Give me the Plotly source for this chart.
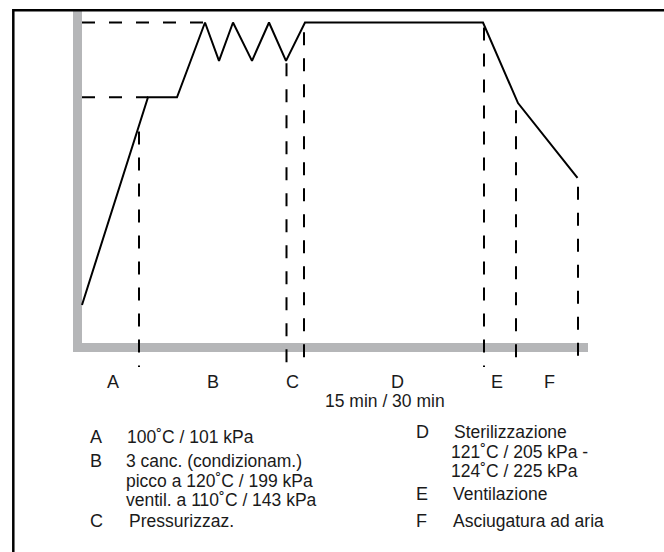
import plotly.graph_objects as go

# ---- data (abstract time units 0..100, level units 0..100) ----
cycle_time = [0.9, 14.1, 19.9, 25.5, 28.3, 31.1, 34.9, 38.3, 41.7, 45.5, 81.1, 88.1, 100.0]
cycle_level = [13.1, 77.0, 77.0, 100.0, 88.2, 100.0, 88.2, 100.0, 88.2, 100.0, 100.0, 75.2, 52.2]

# phase boundaries (vertical dashed lines): x, top level
bound_x = [12.3, 41.8, 45.3, 81.3, 87.7, 100.1]
bound_top = [66.5, 87.5, 97.0, 98.5, 73.0, 49.5]
bound_bottom = -6.0

# reference levels (horizontal dashed lines): level, end x
ref_level = [100.0, 77.0]
ref_end = [25.5, 14.1]
ref_start = 0.9

phase_labels = ["A", "B", "C", "D", "E", "F"]
phase_label_x = [7.1, 27.1, 42.9, 63.9, 83.9, 94.3]
duration_text = "15 min / 30 min"

legend_left = [
    ("A", ["100˚C / 101 kPa"]),
    ("B", ["3 canc. (condizionam.)", "picco a 120˚C / 199 kPa", "ventil. a 110˚C / 143 kPa"]),
    ("C", ["Pressurizzaz."]),
]
legend_right = [
    ("D", ["Sterilizzazione", "121˚C / 205 kPa -", "124˚C / 225 kPa"]),
    ("E", ["Ventilazione"]),
    ("F", ["Asciugatura ad aria"]),
]

# ---- layout helpers ----
W, H = 664, 552
X0PX, XSCALE = 77.5, 5.0      # pixel of x=0, px per unit
Y0PX, YSCALE = 347.5, 3.25    # pixel of y=0, px per unit

def px(x):
    return x / W

def py(y):
    return 1 - y / H

FONT = "Liberation Sans, Arial, Helvetica, sans-serif"
FS = 17.5
LINE_GAP = 19.5
TXT = "#1a1a1a"
GRAY = "#b5b6b8"

fig = go.Figure()

# gray axes
fig.add_shape(type="line", x0=0, x1=0, y0=(Y0PX - 11) / YSCALE, y1=-(352 - Y0PX) / YSCALE,
              line=dict(color=GRAY, width=9), layer="below")
fig.add_shape(type="line", x0=-(X0PX - 73) / XSCALE, x1=(588 - X0PX) / XSCALE, y0=0, y1=0,
              line=dict(color=GRAY, width=9), layer="below")

# dashed reference lines
for lv, xe in zip(ref_level, ref_end):
    fig.add_trace(go.Scatter(x=[ref_start, xe], y=[lv, lv], mode="lines",
                             line=dict(color="black", width=2, dash="13px,14px"),
                             hoverinfo="skip", showlegend=False))
for bx, bt in zip(bound_x, bound_top):
    fig.add_trace(go.Scatter(x=[bx, bx], y=[bt, bound_bottom], mode="lines",
                             line=dict(color="black", width=2, dash="13px,13px"),
                             hoverinfo="skip", showlegend=False))

# cycle curve
fig.add_trace(go.Scatter(x=cycle_time, y=cycle_level, mode="lines",
                         line=dict(color="black", width=2),
                         hoverinfo="skip", showlegend=False))

ann = []
for lab, lx in zip(phase_labels, phase_label_x):
    ann.append(dict(x=lx, y=py(382), xref="x", yref="paper", text=lab, showarrow=False,
                    xanchor="center", yanchor="middle", font=dict(family=FONT, size=18, color=TXT)))
ann.append(dict(x=px(385), y=py(401), xref="paper", yref="paper", text=duration_text, showarrow=False,
                xanchor="center", yanchor="middle", font=dict(family=FONT, size=FS, color=TXT)))

def add_legend(items, letter_x, text_x, ys):
    k = 0
    for letter, lines in items:
        ann.append(dict(x=px(letter_x), y=py(ys[k]), xref="paper", yref="paper", text=letter,
                        showarrow=False, xanchor="left", yanchor="middle",
                        font=dict(family=FONT, size=18, color=TXT)))
        for i, line in enumerate(lines):
            ann.append(dict(x=px(text_x[k][i]), y=py(ys[k] + i * LINE_GAP), xref="paper", yref="paper",
                            text=line, showarrow=False, xanchor="left", yanchor="middle",
                            font=dict(family=FONT, size=FS, color=TXT)))
        k += 1

add_legend(legend_left, 88, [[125], [124, 124, 124], [127]], [437, 461, 521])
add_legend(legend_right, 414, [[452, 449, 449], [451], [451]], [432, 494, 521])

# outer frame (left and top visible)
fig.add_shape(type="rect", xref="paper", yref="paper", x0=px(13.3), x1=px(720), y0=py(10.3), y1=py(620),
              line=dict(color="black", width=2.5))

fig.update_layout(
    width=W, height=H, margin=dict(l=0, r=0, t=0, b=0),
    paper_bgcolor="white", plot_bgcolor="white",
    xaxis=dict(range=[-X0PX / XSCALE, (W - X0PX) / XSCALE], visible=False, fixedrange=True),
    yaxis=dict(range=[(Y0PX - H) / YSCALE, Y0PX / YSCALE], visible=False, fixedrange=True),
    annotations=ann,
)

fig.write_html("out.html", config={"displayModeBar": False},
               post_script="document.body.style.margin='0';document.body.style.padding='0';")
